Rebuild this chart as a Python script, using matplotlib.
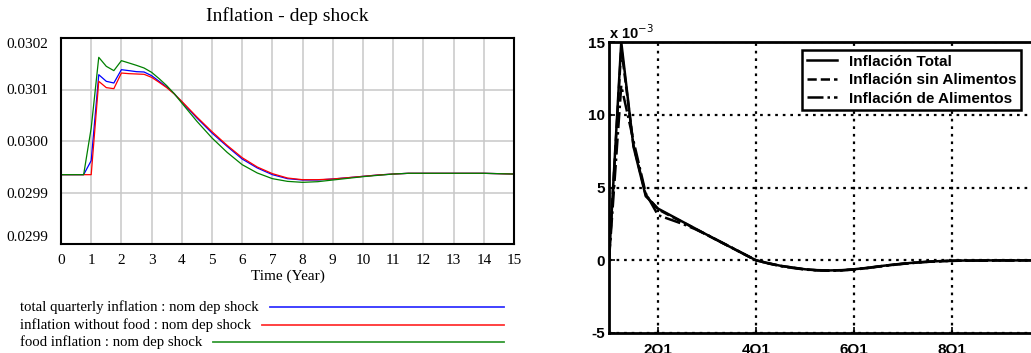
import matplotlib
matplotlib.use("Agg")
import matplotlib.pyplot as plt

# ---------------- Left panel data (Vensim) ----------------
left_title = "Inflation - dep shock"
left_xlabel = "Time (Year)"
time_years = [0, 0.75, 1, 1.25, 1.5, 1.75, 2, 2.25, 2.5, 2.75, 3, 3.25, 3.5, 3.75,
              4, 4.5, 5, 5.5, 6, 6.5, 7, 7.5, 8, 8.5, 9, 9.5, 10, 10.5, 11, 11.5,
              12, 13, 14, 15]
total_quarterly = [0.0299677, 0.0299677, 0.0299895, 0.0301230, 0.0301127, 0.0301101,
                   0.0301308, 0.0301293, 0.0301277, 0.0301272, 0.0301215, 0.0301127,
                   0.0301039, 0.0300935, 0.0300806, 0.0300557, 0.0300324, 0.0300117,
                   0.0299920, 0.0299781, 0.0299677, 0.0299615, 0.0299594, 0.0299594,
                   0.0299610, 0.0299630, 0.0299651, 0.0299672, 0.0299687, 0.0299698,
                   0.0299698, 0.0299698, 0.0299698, 0.0299687]
without_food = [0.0299677, 0.0299677, 0.0299677, 0.0301127, 0.0301029, 0.0301013,
                0.0301256, 0.0301246, 0.0301241, 0.0301236, 0.0301189, 0.0301111,
                0.0301029, 0.0300930, 0.0300816, 0.0300573, 0.0300345, 0.0300133,
                0.0299941, 0.0299796, 0.0299693, 0.0299625, 0.0299599, 0.0299599,
                0.0299610, 0.0299630, 0.0299651, 0.0299672, 0.0299687, 0.0299698,
                0.0299698, 0.0299698, 0.0299698, 0.0299687]
food_inflation = [0.0299677, 0.0299677, 0.0300402, 0.0301500, 0.0301360, 0.0301293,
                  0.0301448, 0.0301412, 0.0301375, 0.0301334, 0.0301267, 0.0301168,
                  0.0301060, 0.0300935, 0.0300790, 0.0300506, 0.0300247, 0.0300024,
                  0.0299832, 0.0299703, 0.0299615, 0.0299573, 0.0299558, 0.0299568,
                  0.0299594, 0.0299620, 0.0299646, 0.0299667, 0.0299687, 0.0299698,
                  0.0299698, 0.0299698, 0.0299698, 0.0299687]
left_series_labels = ["total quarterly inflation : nom dep shock",
                      "inflation without food : nom dep shock",
                      "food inflation : nom dep shock"]
left_colors = ["#0000ff", "#ff0000", "#008000"]
left_yticks = [0.02986, 0.02994, 0.03002, 0.03010, 0.03018]
left_yticklabels = ["0.0299", "0.0299", "0.0300", "0.0301", "0.0302"]
left_xticks = list(range(0, 16))

# ---------------- Right panel data (scanned MATLAB) ----------------
quarters = list(range(1, 41))
inflacion_total = [0, 15, 7.8, 4.4, 3.55, 3.1, 2.65, 2.2, 1.75, 1.3, 0.87, 0.43, 0.0,
                   -0.2, -0.38, -0.5, -0.62, -0.68, -0.7, -0.68, -0.62, -0.53, -0.42,
                   -0.32, -0.23, -0.16, -0.1, -0.06, -0.03, -0.02, -0.02, -0.01, -0.01,
                   -0.01, -0.01, -0.01, 0.0, 0.0, 0.0, 0.0]
inflacion_sin_alimentos = [0, 14.6, 7.9, 4.5, 3.5, 3.05, 2.62, 2.18, 1.74, 1.3, 0.87, 0.43,
                           0.0, -0.21, -0.39, -0.51, -0.63, -0.69, -0.71, -0.69, -0.63,
                           -0.54, -0.43, -0.33, -0.24, -0.17, -0.11, -0.07, -0.04, -0.03,
                           -0.02, -0.02, -0.01, -0.01, -0.01, -0.01, 0.0, 0.0, 0.0, 0.0]
inflacion_alimentos = [0, 12.0, 8.2, 4.6, 3.1, 2.8, 2.5, 2.15, 1.75, 1.32, 0.88, 0.44, 0.0,
                       -0.22, -0.4, -0.53, -0.64, -0.7, -0.72, -0.7, -0.64, -0.55, -0.44,
                       -0.34, -0.25, -0.17, -0.11, -0.07, -0.04, -0.03, -0.02, -0.02,
                       -0.01, -0.01, -0.01, -0.01, 0.0, 0.0, 0.0, 0.0]
right_series_labels = ["Inflación Total", "Inflación sin Alimentos", "Inflación de Alimentos"]
right_styles = ["-", "--", "-."]
right_xticks = [5, 13, 21, 29, 37]
right_xticklabels = ["2Q1", "4Q1", "6Q1", "8Q1", "10Q1"]
right_yticks = [-5, 0, 5, 10, 15]
right_yticklabels = ["-5", "0", "5", "10", "15"]

W, H = 1031, 353
fig = plt.figure(figsize=(W / 100, H / 100), dpi=100)
fig.patch.set_facecolor("white")

serif = ["Liberation Serif", "DejaVu Serif"]
sans = ["Liberation Sans", "DejaVu Sans"]

# ---------- Left axes ----------
axL = fig.add_axes([61 / W, 1 - 244 / H, (514 - 61) / W, (244 - 38) / H])
for y, c, lab in zip([total_quarterly, without_food, food_inflation], left_colors,
                     left_series_labels):
    axL.plot(time_years, y, color=c, lw=0.9, label=lab)
axL.set_xlim(0, 15)
axL.set_ylim(left_yticks[0], left_yticks[-1])
axL.set_xticks(left_xticks)
axL.set_xticklabels([str(t) for t in left_xticks], fontsize=11, family=serif)
axL.set_yticks(left_yticks)
axL.set_yticklabels(left_yticklabels, fontsize=11, family=serif)
ylabs = axL.get_yticklabels()
ylabs[0].set_va("bottom")
ylabs[-1].set_va("top")
axL.tick_params(axis="both", length=0)
axL.tick_params(axis="y", pad=9.5)
axL.tick_params(axis="x", pad=7)
axL.grid(True, color="#c8c8c8", lw=1.1)
axL.set_axisbelow(True)
for s in axL.spines.values():
    s.set_color("black")
    s.set_linewidth(1.5)
fig.text(287.5 / W, 1 - 16 / H, left_title, ha="center", va="center",
         fontsize=14, family=serif)
fig.text(287.5 / W, 1 - 276 / H, left_xlabel, ha="center", va="center",
         fontsize=11, family=serif)

# custom legend like Vensim
leg_y = [307, 325, 342]
leg_x0 = [270, 262, 213]
for lab, c, yy, x0 in zip(left_series_labels, left_colors, leg_y, leg_x0):
    fig.text(20 / W, 1 - yy / H, lab, ha="left", va="center", fontsize=10.6, family=serif)
    fig.add_artist(plt.Line2D([x0 / W, 504 / W], [1 - yy / H, 1 - yy / H],
                              color=c, lw=1.3, alpha=0.8))

# ---------- Right axes ----------
x_left = 609
px_per_q = 12.25
x_right = x_left + (quarters[-1] - quarters[0]) * px_per_q
axR = fig.add_axes([x_left / W, 1 - 333 / H, (x_right - x_left) / W, (333 - 42) / H])
lines = []
for y, ls, lab in zip([inflacion_total, inflacion_sin_alimentos, inflacion_alimentos],
                      right_styles, right_series_labels):
    ln, = axR.plot(quarters, y, color="black", ls=ls, lw=1.8, label=lab)
    lines.append(ln)
axR.set_xlim(quarters[0], quarters[-1])
axR.set_ylim(-5, 15)
axR.set_xticks(right_xticks)
axR.set_xticklabels(right_xticklabels, fontsize=11, family=sans, weight="bold")
axR.set_yticks(right_yticks)
axR.set_yticklabels(right_yticklabels, fontsize=11, family=sans, weight="bold")
axR.tick_params(axis="both", direction="in", length=4, width=1.2, color="black")
axR.tick_params(axis="x", pad=7)
axR.tick_params(axis="y", pad=3)
axR.grid(True, color="black", ls=(0, (1.2, 2.2)), lw=1.6)
for s in axR.spines.values():
    s.set_color("black")
    s.set_linewidth(2.0)
axR.text(0.0, 1.0, "x 10$^{-3}$", transform=axR.transAxes, ha="left",
         va="bottom", fontsize=10.5, family=sans, weight="bold")
leg = axR.legend(handles=lines, loc="upper left",
                 bbox_to_anchor=((802 - x_left) / (x_right - x_left), 1 - (50 - 42) / (333 - 42)),
                 prop={"family": sans, "weight": "bold", "size": 11},
                 frameon=True, fancybox=False, edgecolor="black", framealpha=1,
                 handlelength=2.0, handletextpad=0.8, borderpad=0.3,
                 labelspacing=0.3, borderaxespad=0)
leg.get_frame().set_linewidth(1.8)

fig.savefig("out.png", dpi=100, facecolor="white")
